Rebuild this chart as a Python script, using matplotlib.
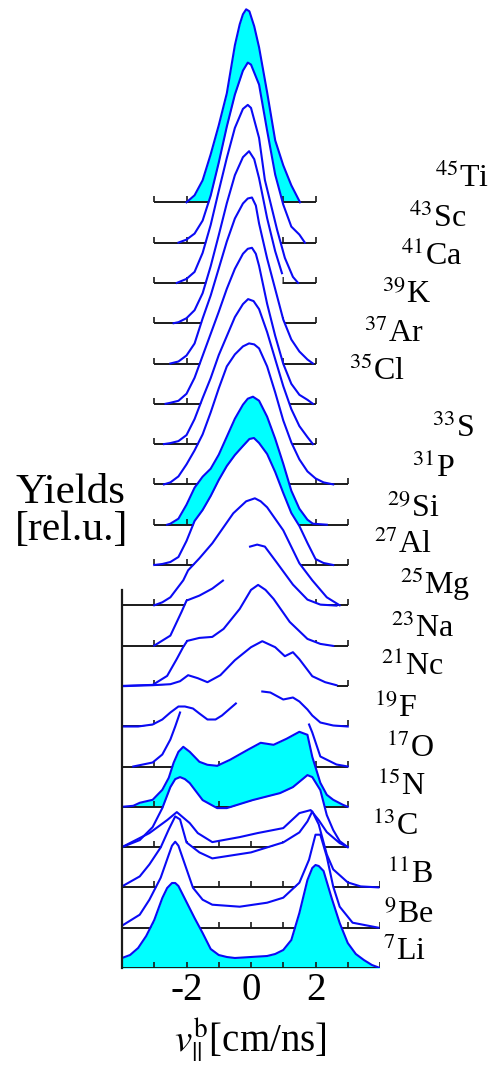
import numpy as np
import matplotlib
matplotlib.use('Agg')
import matplotlib.pyplot as plt

plt.rcParams['font.family'] = ['Liberation Serif', 'DejaVu Serif']
plt.rcParams['mathtext.fontset'] = 'stix'
plt.rcParams['axes.unicode_minus'] = False

nan = np.nan

# isotopes, front (bottom) row first
masses = [7, 9, 11, 13, 15, 17, 19, 21, 23, 25, 27, 29, 31, 33, 35, 37, 39, 41, 43, 45]
symbols = ['Li', 'Be', 'B', 'C', 'N', 'O', 'F', 'Nc', 'Na', 'Mg',
           'Al', 'Si', 'P', 'S', 'Cl', 'Ar', 'K', 'Ca', 'Sc', 'Ti']

# yield curves: (v_par [cm/ns], yield [rel.u.]), nan = no data
li7 = [(-4.0, 10), (-3.75, 13), (-3.5, 20), (-3.25, 32), (-3.0, 48), (-2.75, 70), (-2.6, 80),
       (-2.45, 85), (-2.35, 85), (-2.25, 82), (-2.0, 66), (-1.75, 50), (-1.5, 35), (-1.25, 19),
       (-1.0, 13), (-0.75, 11), (-0.5, 10), (0.0, 11), (0.5, 12), (0.75, 14), (1.0, 18),
       (1.25, 28), (1.5, 55), (1.75, 88), (1.9, 100), (2.0, 103), (2.1, 102), (2.25, 97),
       (2.5, 70), (2.75, 45), (3.0, 25), (3.25, 14), (3.5, 8), (3.75, 3), (4.0, 0)]
be9 = [(-4.0, 2), (-3.45, 13), (-3.15, 28), (-2.8, 50), (-2.55, 73), (-2.45, 82), (-2.35, 86),
       (-2.25, 82), (-2.1, 68), (-1.8, 40), (-1.5, 28), (-1.2, 23), (-0.35, 21), (0.5, 25),
       (1.0, 30), (1.5, 45), (1.8, 68), (2.0, 93), (2.15, 93), (2.35, 71), (2.55, 41),
       (2.75, 21), (3.15, 5), (3.95, 0)]
b11 = [(-4.0, 1), (-3.45, 11), (-3.15, 23), (-2.8, 40), (-2.55, 58), (-2.35, 71), (-2.2, 68),
       (-2.0, 45), (-1.6, 35), (-1.2, 29), (0.0, 35), (1.0, 45), (1.5, 55), (1.75, 66), (1.9, 76),
       (2.1, 63), (2.35, 33), (2.55, 18), (3.0, 5), (3.4, 1), (3.95, 0)]
c13 = [(-4.0, 0), (-3.45, 7), (-3.05, 20), (-2.75, 39), (-2.5, 60), (-2.35, 68), (-2.2, 70),
       (-2.05, 68), (-1.9, 64), (-1.5, 47), (-1.05, 39), (-0.75, 39), (0.05, 47), (0.9, 54),
       (1.3, 60), (1.75, 72), (1.9, 70), (2.15, 57), (2.35, 32), (2.55, 17), (2.75, 6),
       (3.0, 0)]
c13_b = [(-4.0, 0), (-3.15, 14), (-2.6, 27), (-2.3, 35), (-1.9, 24), (-1.65, 14), (-1.2, 5),
         (-0.35, 10), (0.2, 14), (1.0, 19), (1.5, 34), (1.85, 37), (2.1, 27), (2.35, 15),
         (2.75, 4), (3.0, 0)]
n15 = [(-4.0, 0), (-3.65, 1), (-3.45, 4), (-3.05, 7), (-2.75, 17), (-2.55, 29), (-2.4, 44),
       (-2.25, 55), (-2.1, 60), (-1.9, 55), (-1.6, 45), (-1.35, 42), (-1.05, 41), (-0.65, 47),
       (-0.1, 57), (0.3, 64), (0.7, 62), (1.1, 68), (1.5, 75), (1.75, 72), (1.9, 50), (2.15, 24),
       (2.35, 12), (2.55, 7), (2.85, 2), (3.0, 0)]
o17 = [(-4.0, 40), (-3.5, 40), (-3.05, 42), (-2.75, 47), (-2.5, 54), (-2.25, 60), (-2.05, 60),
       (-1.8, 58), (-1.6, 53), (-1.35, 47), (-1.1, 47), (-0.9, 51), (-0.65, 58), (-0.47, 63),
       (-0.1, nan), (0.35, 75), (0.6, 74), (1.0, 67), (1.3, 69), (1.5, 65), (1.75, 57), (1.9, 51),
       (2.15, 44), (2.55, 41), (3.0, 40)]
o17_b = [(-3.65, 0), (-3.05, 4), (-2.75, 12), (-2.5, 27), (-2.35, 40), (-2.2, 54), (-2.0, nan),
         (1.8, 42), (1.9, 34), (2.15, 10), (2.65, 2), (3.0, 0)]
f19 = [(-4.0, 40), (-3.05, 41), (-2.5, 42), (-2.2, 45), (-1.95, 51), (-1.65, 48), (-1.35, 44),
       (-0.95, 51), (-0.5, 66), (0.0, 79), (0.35, 85), (0.75, 79), (1.05, 70), (1.3, 74),
       (1.5, 67), (1.9, 50), (2.3, 44), (2.65, 41)]
ne21 = [(-4.0, 0), (-3.05, 1), (-2.6, 10), (-2.3, 27), (-2.1, 39), (-1.98, 45), (-1.6, 48),
        (-1.2, 49), (-0.85, 57), (-0.35, 77), (0.0, 96), (0.22, 101), (0.45, 96), (0.7, 87),
        (1.2, 64), (1.75, 47), (2.15, 42), (2.55, 40)]
na23 = [(-3.0, 0), (-2.5, 10), (-2.15, 34), (-2.0, 45), (-1.6, 50), (-1.2, 57), (-0.87, 65),
        (-0.45, nan), (-0.03, 99), (0.19, 101), (0.43, 99), (0.8, 83), (1.3, 61), (1.75, 46),
        (2.15, 41), (2.65, 40)]
mg25 = [(-3.0, 0), (-2.75, 3), (-2.5, 8), (-2.1, 25), (-1.95, 35), (-1.6, 47), (-1.2, 62),
        (-0.55, 92), (-0.15, 104), (0.12, 107), (0.3, 104), (0.5, 98), (1.0, 75), (1.5, 42),
        (1.9, 25), (2.35, 8), (2.75, 0)]
al27 = [(-3.0, 0), (-2.75, 1), (-2.5, 3), (-2.25, 8), (-2.0, 24), (-1.75, 44), (-1.5, 55),
        (-1.25, 69), (-1.0, 85), (-0.75, 99), (-0.5, 110), (-0.25, 119), (-0.05, 126),
        (0.09, 127), (0.25, 122), (0.5, 111), (0.75, 93), (1.0, 72), (1.25, 52), (1.5, 39),
        (1.75, 22), (2.0, 6), (2.25, 2), (2.55, 0)]
si29 = [(-2.6, 0), (-2.5, 1), (-2.25, 6), (-2.0, 20), (-1.75, 37), (-1.5, 48), (-1.25, 56),
        (-1.0, 70), (-0.75, 88), (-0.5, 106), (-0.25, 120), (-0.1, 126), (0.06, 128), (0.25, 124),
        (0.5, 108), (0.75, 86), (1.0, 61), (1.25, 34), (1.5, 16), (1.75, 5), (1.92, 1), (2.35, 0)]
p31 = [(-2.7, 0), (-2.5, 2), (-2.25, 8), (-2.0, 20), (-1.75, 34), (-1.5, 50), (-1.25, 72),
       (-1.0, 96), (-0.75, 118), (-0.5, 130), (-0.25, 138), (-0.06, 141), (0.1, 140), (0.25, 136),
       (0.5, 118), (0.75, 92), (1.0, 64), (1.25, 42), (1.5, 25), (1.75, 13), (2.0, 6), (2.25, 2),
       (2.55, 0)]
s33 = [(-2.7, 0), (-2.5, 1), (-2.25, 3), (-2.0, 9), (-1.75, 25), (-1.5, 46), (-1.25, 66),
       (-1.0, 89), (-0.75, 108), (-0.5, 127), (-0.25, 140), (-0.09, 145), (0.08, 143), (0.25, 135),
       (0.5, 112), (0.75, 85), (1.0, 58), (1.25, 35), (1.5, 18), (1.75, 7), (1.92, 0)]
cl35 = [(-2.65, 0), (-2.5, 1), (-2.25, 3), (-2.0, 10), (-1.75, 26), (-1.5, 48), (-1.25, 70),
        (-1.0, 92), (-0.75, 115), (-0.5, 135), (-0.25, 150), (-0.1, 155), (0.03, 156),
        (0.15, 150), (0.25, 138), (0.5, 100), (0.75, 68), (1.0, 40), (1.25, 20), (1.5, 9),
        (1.75, 4), (1.92, 0)]
ar37 = [(-2.5, 0), (-2.25, 2), (-2.0, 8), (-1.75, 20), (-1.5, 45), (-1.25, 68), (-1.0, 95),
        (-0.75, 122), (-0.5, 145), (-0.25, 160), (-0.1, 165), (0.03, 166), (0.15, 158),
        (0.25, 140), (0.5, 105), (0.68, 83), (1.0, 44), (1.25, 24), (1.5, 12), (1.75, 4),
        (1.92, 0)]
k39 = [(-2.4, 0), (-2.25, 1), (-2.0, 5), (-1.75, 13), (-1.5, 30), (-1.25, 57), (-1.0, 88),
       (-0.75, 120), (-0.5, 148), (-0.25, 166), (-0.06, 172), (0.1, 164), (0.25, 145), (0.5, 105),
       (0.75, 72), (0.96, 50)]
ca41 = [(-2.3, 0), (-2.0, 4), (-1.75, 11), (-1.5, 30), (-1.25, 58), (-1.0, 92), (-0.75, 125),
        (-0.5, 155), (-0.25, 174), (-0.1, 178), (0.0, 175), (0.25, 145), (0.43, 103), (0.81, 53),
        (1.05, 25), (1.3, 6), (1.46, 0)]
sc43 = [(-2.25, 0), (-2.0, 3), (-1.75, 9), (-1.5, 22), (-1.25, 47), (-1.0, 80), (-0.75, 116),
        (-0.5, 148), (-0.25, 172), (-0.1, 180), (0.0, 178), (0.25, 158), (0.5, 112), (0.75, 68),
        (1.0, 38), (1.25, 16), (1.5, 8), (1.67, 0)]
ti45 = [(-2.0, 0), (-1.75, 7), (-1.5, 22), (-1.25, 48), (-1.0, 77), (-0.75, 109), (-0.5, 157),
        (-0.35, 178), (-0.25, 188), (-0.15, 193), (-0.05, 191), (0.1, 176), (0.25, 155),
        (0.5, 110), (0.75, 62), (1.0, 37), (1.25, 17), (1.52, 0)]

curves = [li7, be9, b11, c13, n15, o17, f19, ne21, na23, mg25,
          al27, si29, p31, s33, cl35, ar37, k39, ca41, sc43, ti45]
extra_curves = [(3, c13_b), (5, o17_b)]
shaded = [0, 4, 11, 19]

# v-range of each base line
spans = [(-4, 4)] * 3 + [(-4, 3)] * 7 + [(-3, 3)] * 3 + [(-3, 2)] * 7

# label anchor (left x, baseline y) in picture pixels
label_xy = [(383, 960), (384, 923), (387, 883), (372, 835), (377, 795), (386, 757),
            (374, 717), (381, 675), (391, 637), (400, 594), (374, 553), (387, 517),
            (412, 477), (432, 437), (349, 380), (364, 342), (382, 303), (401, 265),
            (409, 227), (435, 187)]

W, H = 493, 1070
step = 40.3
blue = '#0a0af5'
cyan = '#00ffff'
black = '#1a1a1a'

fig = plt.figure(figsize=(W / 100, H / 100), dpi=100)
ax = fig.add_axes([122 / W, (H - 968) / H, 258 / W, 968 / H])
ax.set_xlim(-4, 4)
ax.set_ylim(0, 968)
for s in ax.spines.values():
    s.set_visible(False)
ax.set_yticks([])
ax.set_xticks([-2, 0, 2])
ax.set_xticklabels(['-2', '0', '2'])
ax.tick_params(axis='x', length=0, labelsize=28, pad=3)

# back rows first, each row hides what lies behind it
for k in range(len(curves) - 1, -1, -1):
    pts = np.array(curves[k], dtype=float)
    v, y = pts[:, 0], pts[:, 1]
    base = k * step
    z = 3 * (len(curves) - k)
    ok = ~np.isnan(y)
    yfill = np.interp(v, v[ok], y[ok])
    ax.fill_between(v, base, base + yfill, color=cyan if k in shaded else 'white',
                    lw=0, zorder=z)
    lo, hi = spans[k]
    ax.plot([lo, hi], [base, base], color=black, lw=1.4, zorder=z + 1,
            solid_capstyle='butt')
    ax.vlines(np.arange(lo, hi + 1), base, base + 6, color=black, lw=1.2, zorder=z + 1)
    ax.plot(v, base + y, color=blue, lw=1.5, zorder=z + 2, solid_joinstyle='round')

for k, pts in extra_curves:
    pts = np.array(pts, dtype=float)
    z = 3 * (len(curves) - k)
    ax.plot(pts[:, 0], k * step + pts[:, 1], color=blue, lw=1.5, zorder=z + 2,
            solid_joinstyle='round')

# left axis line of the lower block
ax.plot([-4, -4], [0, 378], color=black, lw=1.6, zorder=200, clip_on=False)

for m, sym, (px, py) in zip(masses, symbols, label_xy):
    fig.text(px / W, 1 - py / H, r'$^{%d}$%s' % (m, sym), fontsize=23,
             ha='left', va='baseline')

fig.text(15 / W, 1 - 503 / H, 'Yields', fontsize=31, ha='left', va='baseline')
fig.text(15 / W, 1 - 540 / H, '[rel.u.]', fontsize=30, ha='left', va='baseline')
fig.text(250 / W, 1 - 1052 / H, r'$v_{||}^{\rm b}$[cm/ns]', fontsize=28,
         ha='center', va='baseline')

fig.savefig('out.png', dpi=100)
